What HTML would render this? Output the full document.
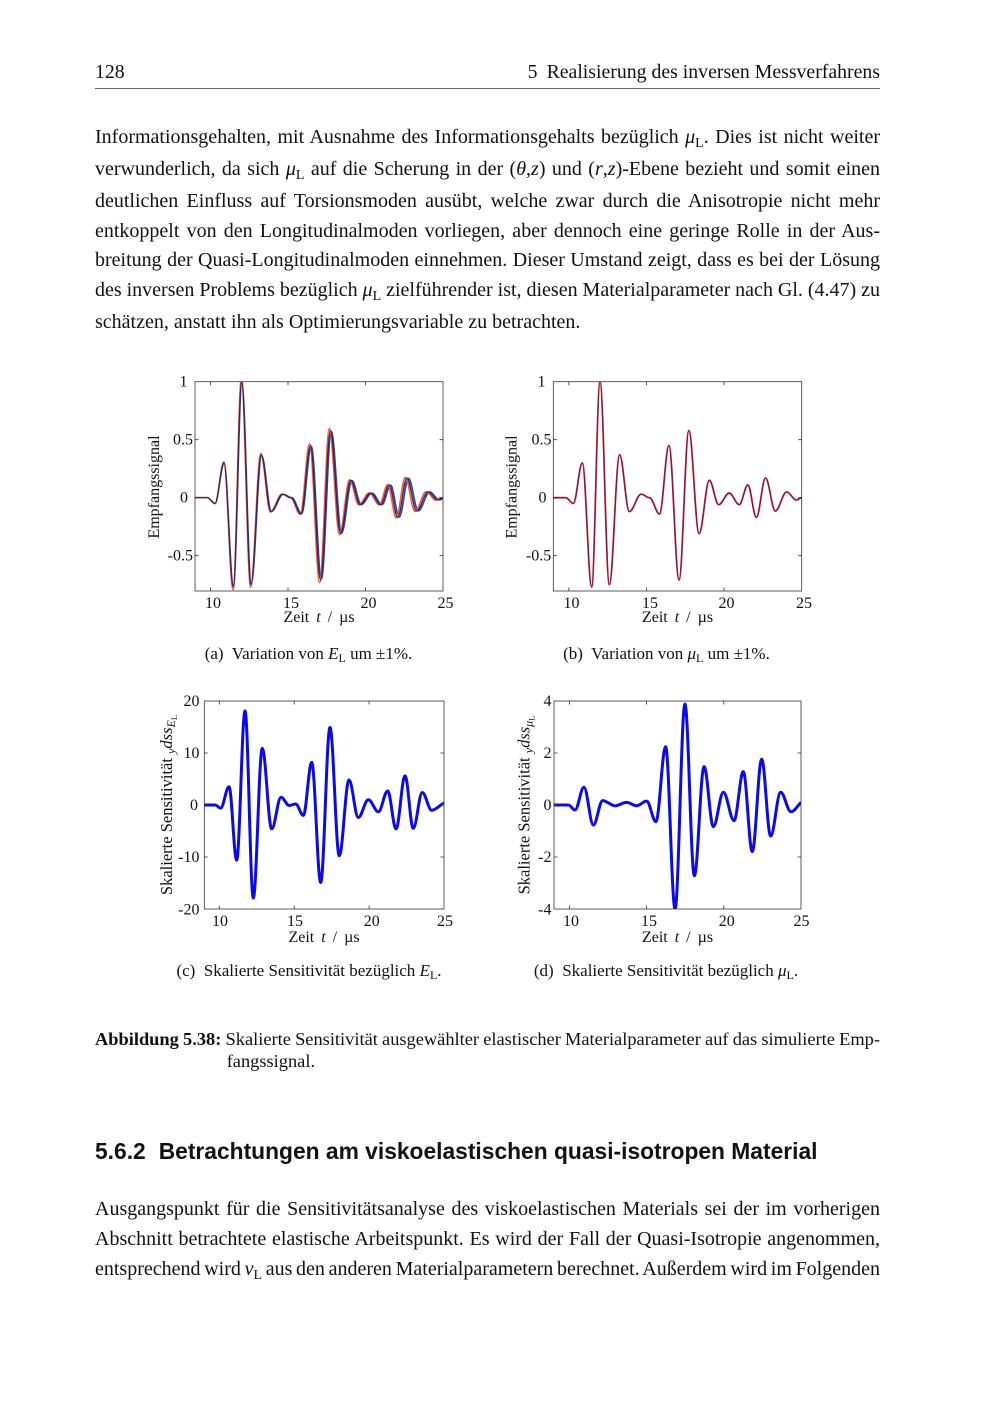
<!DOCTYPE html>
<html>
<head>
<meta charset="utf-8">
<style>
html,body{margin:0;padding:0;background:#fff;}
body{width:1000px;height:1414px;position:relative;overflow:hidden;color:#111;font-family:"Liberation Serif",serif;}
.abs{position:absolute;}
.par{position:absolute;left:95px;width:785px;font-size:20px;}
.j{text-align:justify;text-align-last:justify;word-spacing:-2px;}
.m{font-style:italic;}
.sb{font-size:70%;position:relative;top:0.3em;font-style:normal;}
</style>
</head>
<body>

<!-- Header -->
<div class="abs" style="left:95px;top:62.3px;font-size:19.8px;line-height:20px;">128</div>
<div class="abs" style="right:120px;top:62.3px;font-size:19.8px;line-height:20px;white-space:nowrap;">5<span style="margin-left:9px">Realisierung des inversen Messverfahrens</span></div>
<div class="abs" style="left:95px;top:88px;width:785px;height:1px;background:#6a6a6a;"></div>

<!-- Paragraph 1 -->
<div class="par" style="top:123.3px;line-height:29.75px;">
<div class="j">Informationsgehalten, mit Ausnahme des Informationsgehalts bezüglich <span class="m">μ</span><span class="sb">L</span>. Dies ist nicht weiter</div>
<div class="j">verwunderlich, da sich <span class="m">μ</span><span class="sb">L</span> auf die Scherung in der (<span class="m">θ</span>,<span class="m">z</span>) und (<span class="m">r</span>,<span class="m">z</span>)-Ebene bezieht und somit einen</div>
<div class="j">deutlichen Einfluss auf Torsionsmoden ausübt, welche zwar durch die Anisotropie nicht mehr</div>
<div class="j">entkoppelt von den Longitudinalmoden vorliegen, aber dennoch eine geringe Rolle in der Aus-</div>
<div class="j">breitung der Quasi-Longitudinalmoden einnehmen. Dieser Umstand zeigt, dass es bei der Lösung</div>
<div class="j">des inversen Problems bezüglich <span class="m">μ</span><span class="sb">L</span> zielführender ist, diesen Materialparameter nach Gl. (4.47) zu</div>
<div>schätzen, anstatt ihn als Optimierungsvariable zu betrachten.</div>
</div>

<!-- Figure caption -->
<div class="abs" style="left:95px;top:1027.5px;width:785px;font-size:18.4px;line-height:22.5px;">
<div class="j" style="word-spacing:-1.5px"><b>Abbildung 5.38:</b> Skalierte Sensitivität ausgewählter elastischer Materialparameter auf das simulierte Emp-</div>
<div style="margin-left:131.7px;">fangssignal.</div>
</div>

<!-- Section heading -->
<div class="abs" style="left:95px;top:1136px;font-family:'Liberation Sans',sans-serif;font-weight:bold;font-size:22.8px;line-height:30px;white-space:nowrap;">5.6.2<span style="margin-left:13px">Betrachtungen am viskoelastischen quasi-isotropen Material</span></div>

<!-- Paragraph 2 -->
<div class="par" style="top:1194.3px;line-height:30px;">
<div class="j">Ausgangspunkt für die Sensitivitätsanalyse des viskoelastischen Materials sei der im vorherigen</div>
<div class="j">Abschnitt betrachtete elastische Arbeitspunkt. Es wird der Fall der Quasi-Isotropie angenommen,</div>
<div class="j" style="word-spacing:-3.5px">entsprechend wird <span class="m">ν</span><span class="sb">L</span> aus den anderen Materialparametern berechnet. Außerdem wird im Folgenden</div>
</div>

<!-- Charts -->
<svg class="abs" style="left:0;top:0;" width="1000" height="1414" viewBox="0 0 1000 1414" font-family="'Liberation Serif', serif" font-size="16" fill="#111">
<defs>
<clipPath id="ca"><rect x="195" y="381.7" width="248" height="209.3"/></clipPath>
<clipPath id="cb"><rect x="553.3" y="381.7" width="248.4" height="209.3"/></clipPath>
<clipPath id="cc"><rect x="204.3" y="701" width="239.7" height="208"/></clipPath>
<clipPath id="cd"><rect x="554" y="701" width="247" height="208"/></clipPath>
</defs>

<!-- ===== Chart (a) ===== -->
<g clip-path="url(#ca)">
<g transform="translate(55.5,497.7) scale(15.5,-116)">
<g transform="translate(10,0) scale(1.008,0.985) translate(-10,0)">
<path fill="none" stroke="#2b3fb5" stroke-width="1.6" vector-effect="non-scaling-stroke" d="M9,0 L9.8,0 C9.976,0 10.114,-0.05 10.29,-0.05 C10.499,-0.05 10.661,0.3 10.87,0.3 C11.086,0.3 11.254,-0.77 11.47,-0.77 C11.664,-0.77 11.816,1 12.01,1 C12.226,1 12.394,-0.75 12.61,-0.75 C12.848,-0.75 13.032,0.37 13.27,0.37 C13.497,0.37 13.673,-0.12 13.9,-0.12 C14.17,-0.12 14.38,0.03 14.65,0.03 C14.848,0.03 15.002,0 15.2,0 C15.43,0 15.61,-0.14 15.84,-0.14 C16.06,-0.14 16.23,0.45 16.45,0.45 C16.684,0.45 16.866,-0.71 17.1,-0.71 C17.327,-0.71 17.503,0.58 17.73,0.58 C17.968,0.58 18.152,-0.31 18.39,-0.31 C18.628,-0.31 18.812,0.15 19.05,0.15 C19.266,0.15 19.434,-0.06 19.65,-0.06 C19.895,-0.06 20.085,0.04 20.33,0.04 C20.564,0.04 20.746,-0.06 20.98,-0.06 C21.178,-0.06 21.332,0.11 21.53,0.11 C21.728,0.11 21.882,-0.17 22.08,-0.17 C22.292,-0.17 22.458,0.17 22.67,0.17 C22.897,0.17 23.073,-0.115 23.3,-0.115 C23.563,-0.115 23.767,0.05 24.03,0.05 C24.253,0.05 24.427,-0.02 24.65,-0.02 C24.776,-0.02 24.874,0 25,0"/>
</g>
<g transform="translate(10,0) scale(0.992,1.03) translate(-10,0)">
<path fill="none" stroke="#ee5a3a" stroke-width="1.6" vector-effect="non-scaling-stroke" d="M9,0 L9.8,0 C9.976,0 10.114,-0.05 10.29,-0.05 C10.499,-0.05 10.661,0.3 10.87,0.3 C11.086,0.3 11.254,-0.77 11.47,-0.77 C11.664,-0.77 11.816,1 12.01,1 C12.226,1 12.394,-0.75 12.61,-0.75 C12.848,-0.75 13.032,0.37 13.27,0.37 C13.497,0.37 13.673,-0.12 13.9,-0.12 C14.17,-0.12 14.38,0.03 14.65,0.03 C14.848,0.03 15.002,0 15.2,0 C15.43,0 15.61,-0.14 15.84,-0.14 C16.06,-0.14 16.23,0.45 16.45,0.45 C16.684,0.45 16.866,-0.71 17.1,-0.71 C17.327,-0.71 17.503,0.58 17.73,0.58 C17.968,0.58 18.152,-0.31 18.39,-0.31 C18.628,-0.31 18.812,0.15 19.05,0.15 C19.266,0.15 19.434,-0.06 19.65,-0.06 C19.895,-0.06 20.085,0.04 20.33,0.04 C20.564,0.04 20.746,-0.06 20.98,-0.06 C21.178,-0.06 21.332,0.11 21.53,0.11 C21.728,0.11 21.882,-0.17 22.08,-0.17 C22.292,-0.17 22.458,0.17 22.67,0.17 C22.897,0.17 23.073,-0.115 23.3,-0.115 C23.563,-0.115 23.767,0.05 24.03,0.05 C24.253,0.05 24.427,-0.02 24.65,-0.02 C24.776,-0.02 24.874,0 25,0"/>
</g>
<path fill="none" stroke="#3c2350" stroke-width="1.2" vector-effect="non-scaling-stroke" d="M9,0 L9.8,0 C9.976,0 10.114,-0.05 10.29,-0.05 C10.499,-0.05 10.661,0.3 10.87,0.3 C11.086,0.3 11.254,-0.77 11.47,-0.77 C11.664,-0.77 11.816,1 12.01,1 C12.226,1 12.394,-0.75 12.61,-0.75 C12.848,-0.75 13.032,0.37 13.27,0.37 C13.497,0.37 13.673,-0.12 13.9,-0.12 C14.17,-0.12 14.38,0.03 14.65,0.03 C14.848,0.03 15.002,0 15.2,0 C15.43,0 15.61,-0.14 15.84,-0.14 C16.06,-0.14 16.23,0.45 16.45,0.45 C16.684,0.45 16.866,-0.71 17.1,-0.71 C17.327,-0.71 17.503,0.58 17.73,0.58 C17.968,0.58 18.152,-0.31 18.39,-0.31 C18.628,-0.31 18.812,0.15 19.05,0.15 C19.266,0.15 19.434,-0.06 19.65,-0.06 C19.895,-0.06 20.085,0.04 20.33,0.04 C20.564,0.04 20.746,-0.06 20.98,-0.06 C21.178,-0.06 21.332,0.11 21.53,0.11 C21.728,0.11 21.882,-0.17 22.08,-0.17 C22.292,-0.17 22.458,0.17 22.67,0.17 C22.897,0.17 23.073,-0.115 23.3,-0.115 C23.563,-0.115 23.767,0.05 24.03,0.05 C24.253,0.05 24.427,-0.02 24.65,-0.02 C24.776,-0.02 24.874,0 25,0"/>
</g>
</g>
<g fill="none" stroke="#333" stroke-width="0.8">
<rect x="195" y="381.7" width="248" height="209.3"/>
<path d="M210.5,591v-3.5M288,591v-3.5M365.5,591v-3.5M210.5,381.7v3.5M288,381.7v3.5M365.5,381.7v3.5M195,439.7h3.5M195,497.7h3.5M195,555.7h3.5M443,439.7h-3.5M443,497.7h-3.5M443,555.7h-3.5"/>
</g>
<g text-anchor="middle"><text x="213" y="608">10</text><text x="291" y="608">15</text><text x="368.5" y="608">20</text><text x="445.5" y="608">25</text></g>
<g text-anchor="end"><text x="187.5" y="386.5">1</text><text x="193" y="444.5">0.5</text><text x="188" y="502.5">0</text><text x="193" y="560.5">-0.5</text></g>
<text x="319" y="622" text-anchor="middle" style="word-spacing:3px">Zeit <tspan font-style="italic">t</tspan> / µs</text>
<text transform="translate(159,487) rotate(-90)" text-anchor="middle">Empfangssignal</text>
<text x="308.5" y="659" text-anchor="middle" font-size="17">(a)&#160; Variation von <tspan font-style="italic">E</tspan><tspan font-size="12" dy="3">L</tspan><tspan dy="-3"> um ±1%.</tspan></text>

<!-- ===== Chart (b) ===== -->
<g clip-path="url(#cb)">
<g transform="translate(413.575,497.7) scale(15.525,-116)">
<path fill="none" stroke="#e0303a" stroke-width="1.8" vector-effect="non-scaling-stroke" d="M9,0 L9.8,0 C9.976,0 10.114,-0.05 10.29,-0.05 C10.499,-0.05 10.661,0.3 10.87,0.3 C11.086,0.3 11.254,-0.77 11.47,-0.77 C11.664,-0.77 11.816,1 12.01,1 C12.226,1 12.394,-0.75 12.61,-0.75 C12.848,-0.75 13.032,0.37 13.27,0.37 C13.497,0.37 13.673,-0.12 13.9,-0.12 C14.17,-0.12 14.38,0.03 14.65,0.03 C14.848,0.03 15.002,0 15.2,0 C15.43,0 15.61,-0.14 15.84,-0.14 C16.06,-0.14 16.23,0.45 16.45,0.45 C16.684,0.45 16.866,-0.71 17.1,-0.71 C17.327,-0.71 17.503,0.58 17.73,0.58 C17.968,0.58 18.152,-0.31 18.39,-0.31 C18.628,-0.31 18.812,0.15 19.05,0.15 C19.266,0.15 19.434,-0.06 19.65,-0.06 C19.895,-0.06 20.085,0.04 20.33,0.04 C20.564,0.04 20.746,-0.06 20.98,-0.06 C21.178,-0.06 21.332,0.11 21.53,0.11 C21.728,0.11 21.882,-0.17 22.08,-0.17 C22.292,-0.17 22.458,0.17 22.67,0.17 C22.897,0.17 23.073,-0.115 23.3,-0.115 C23.563,-0.115 23.767,0.05 24.03,0.05 C24.253,0.05 24.427,-0.02 24.65,-0.02 C24.776,-0.02 24.874,0 25,0"/>
<path fill="none" stroke="#7a1838" stroke-width="1.1" vector-effect="non-scaling-stroke" d="M9,0 L9.8,0 C9.976,0 10.114,-0.05 10.29,-0.05 C10.499,-0.05 10.661,0.3 10.87,0.3 C11.086,0.3 11.254,-0.77 11.47,-0.77 C11.664,-0.77 11.816,1 12.01,1 C12.226,1 12.394,-0.75 12.61,-0.75 C12.848,-0.75 13.032,0.37 13.27,0.37 C13.497,0.37 13.673,-0.12 13.9,-0.12 C14.17,-0.12 14.38,0.03 14.65,0.03 C14.848,0.03 15.002,0 15.2,0 C15.43,0 15.61,-0.14 15.84,-0.14 C16.06,-0.14 16.23,0.45 16.45,0.45 C16.684,0.45 16.866,-0.71 17.1,-0.71 C17.327,-0.71 17.503,0.58 17.73,0.58 C17.968,0.58 18.152,-0.31 18.39,-0.31 C18.628,-0.31 18.812,0.15 19.05,0.15 C19.266,0.15 19.434,-0.06 19.65,-0.06 C19.895,-0.06 20.085,0.04 20.33,0.04 C20.564,0.04 20.746,-0.06 20.98,-0.06 C21.178,-0.06 21.332,0.11 21.53,0.11 C21.728,0.11 21.882,-0.17 22.08,-0.17 C22.292,-0.17 22.458,0.17 22.67,0.17 C22.897,0.17 23.073,-0.115 23.3,-0.115 C23.563,-0.115 23.767,0.05 24.03,0.05 C24.253,0.05 24.427,-0.02 24.65,-0.02 C24.776,-0.02 24.874,0 25,0"/>
</g>
</g>
<g fill="none" stroke="#333" stroke-width="0.8">
<rect x="553.3" y="381.7" width="248.4" height="209.3"/>
<path d="M568.8,591v-3.5M646.4,591v-3.5M724,591v-3.5M568.8,381.7v3.5M646.4,381.7v3.5M724,381.7v3.5M553.3,439.7h3.5M553.3,497.7h3.5M553.3,555.7h3.5M801.7,439.7h-3.5M801.7,497.7h-3.5M801.7,555.7h-3.5"/>
</g>
<g text-anchor="middle"><text x="571.5" y="608">10</text><text x="650" y="608">15</text><text x="726.5" y="608">20</text><text x="804" y="608">25</text></g>
<g text-anchor="end"><text x="545.5" y="386.5">1</text><text x="551.5" y="444.5">0.5</text><text x="546.5" y="502.5">0</text><text x="551.3" y="560.5">-0.5</text></g>
<text x="677.5" y="622" text-anchor="middle" style="word-spacing:3px">Zeit <tspan font-style="italic">t</tspan> / µs</text>
<text transform="translate(516.5,487) rotate(-90)" text-anchor="middle">Empfangssignal</text>
<text x="666.5" y="659" text-anchor="middle" font-size="17">(b)&#160; Variation von <tspan font-style="italic">μ</tspan><tspan font-size="12" dy="3">L</tspan><tspan dy="-3"> um ±1%.</tspan></text>

<!-- ===== Chart (c) ===== -->
<g clip-path="url(#cc)">
<g transform="translate(69.48,805) scale(14.98,-5.2)">
<path fill="none" stroke="#0a0aee" stroke-width="3" stroke-linejoin="round" vector-effect="non-scaling-stroke" d="M9,0 L9.72,0 C9.853,0 9.957,-0.6 10.09,-0.6 C10.292,-0.6 10.448,3.5 10.65,3.5 C10.834,3.5 10.976,-10.6 11.16,-10.6 C11.362,-10.6 11.518,18.1 11.72,18.1 C11.918,18.1 12.072,-17.9 12.27,-17.9 C12.486,-17.9 12.654,10.9 12.87,10.9 C13.097,10.9 13.273,-4.6 13.5,-4.6 C13.723,-4.6 13.897,1.5 14.12,1.5 C14.318,1.5 14.472,-0.1 14.67,-0.1 C14.825,-0.1 14.945,0.2 15.1,0.2 C15.284,0.2 15.426,-2 15.61,-2 C15.812,-2 15.968,8.2 16.17,8.2 C16.386,8.2 16.554,-14.9 16.77,-14.9 C16.993,-14.9 17.167,14.9 17.39,14.9 C17.613,14.9 17.787,-9.75 18.01,-9.75 C18.244,-9.75 18.426,4.8 18.66,4.8 C18.883,4.8 19.057,-2.4 19.28,-2.4 C19.521,-2.4 19.709,1 19.95,1 C20.191,1 20.379,-1.3 20.62,-1.3 C20.843,-1.3 21.017,2.7 21.24,2.7 C21.442,2.7 21.598,-4.6 21.8,-4.6 C22.016,-4.6 22.184,5.6 22.4,5.6 C22.598,5.6 22.752,-4.5 22.95,-4.5 C23.166,-4.5 23.334,2.4 23.55,2.4 C23.777,2.4 23.953,-1 24.18,-1 C24.475,-1 24.75,0.1 25,0.35"/>
</g>
</g>
<g fill="none" stroke="#333" stroke-width="0.8">
<rect x="204.3" y="701" width="239.7" height="208"/>
<path d="M219.3,909v-3.5M294.2,909v-3.5M369.1,909v-3.5M219.3,701v3.5M294.2,701v3.5M369.1,701v3.5M204.3,753h3.5M204.3,805h3.5M204.3,857h3.5M444,753h-3.5M444,805h-3.5M444,857h-3.5"/>
</g>
<g text-anchor="middle"><text x="220" y="926">10</text><text x="295" y="926">15</text><text x="371.7" y="926">20</text><text x="445" y="926">25</text></g>
<g text-anchor="end"><text x="199.5" y="706">20</text><text x="199.5" y="758">10</text><text x="198" y="810">0</text><text x="199.5" y="862">-10</text><text x="199.5" y="914.5">-20</text></g>
<text x="324" y="942" text-anchor="middle" style="word-spacing:3px">Zeit <tspan font-style="italic">t</tspan> / µs</text>
<text transform="translate(172,805) rotate(-90)" text-anchor="middle" font-size="16.5">Skalierte Sensitivität <tspan font-style="italic" font-size="12" dy="3">y</tspan><tspan font-style="italic" dy="-3">dss</tspan><tspan font-style="italic" font-size="12" dy="3">E</tspan><tspan font-size="8.5" dy="2">L</tspan></text>
<text x="309" y="976" text-anchor="middle" font-size="17">(c)&#160; Skalierte Sensitivität bezüglich <tspan font-style="italic">E</tspan><tspan font-size="12" dy="3">L</tspan><tspan dy="-3">.</tspan></text>

<!-- ===== Chart (d) ===== -->
<g clip-path="url(#cd)">
<g transform="translate(415.04,805) scale(15.44,-26.1)">
<path fill="none" stroke="#0a0aee" stroke-width="3" stroke-linejoin="round" vector-effect="non-scaling-stroke" d="M9,0 L9.93,0 C10.085,0 10.205,-0.19 10.36,-0.19 C10.569,-0.19 10.731,0.68 10.94,0.68 C11.16,0.68 11.33,-0.77 11.55,-0.77 C11.766,-0.77 11.934,0.17 12.15,0.17 C12.438,0.17 12.662,-0.03 12.95,-0.03 C13.22,-0.03 13.43,0.1 13.7,0.1 C13.934,0.1 14.116,-0.03 14.35,-0.03 C14.584,-0.03 14.766,0.15 15,0.15 C15.216,0.15 15.384,-0.64 15.6,-0.64 C15.827,-0.64 16.003,2.23 16.23,2.23 C16.45,2.23 16.62,-3.98 16.84,-3.98 C17.07,-3.98 17.25,3.87 17.48,3.87 C17.7,3.87 17.87,-2.71 18.09,-2.71 C18.317,-2.71 18.493,1.47 18.72,1.47 C18.936,1.47 19.104,-0.83 19.32,-0.83 C19.554,-0.83 19.736,0.49 19.97,0.49 C20.218,0.49 20.412,-0.6 20.66,-0.6 C20.876,-0.6 21.044,1.28 21.26,1.28 C21.469,1.28 21.631,-1.79 21.84,-1.79 C22.06,-1.79 22.23,1.76 22.45,1.76 C22.659,1.76 22.821,-1.19 23.03,-1.19 C23.264,-1.19 23.446,0.49 23.68,0.49 C23.921,0.49 24.109,-0.26 24.35,-0.26 C24.584,-0.26 24.8,0 25,0.1"/>
</g>
</g>
<g fill="none" stroke="#333" stroke-width="0.8">
<rect x="554" y="701" width="247" height="208"/>
<path d="M569.4,909v-3.5M646.6,909v-3.5M723.8,909v-3.5M569.4,701v3.5M646.6,701v3.5M723.8,701v3.5M554,753h3.5M554,805h3.5M554,857h3.5M801,753h-3.5M801,805h-3.5M801,857h-3.5"/>
</g>
<g text-anchor="middle"><text x="571" y="926">10</text><text x="649" y="926">15</text><text x="726.7" y="926">20</text><text x="801.5" y="926">25</text></g>
<g text-anchor="end"><text x="551.5" y="706">4</text><text x="551.5" y="758">2</text><text x="551.5" y="810">0</text><text x="551.5" y="862">-2</text><text x="551.5" y="914.5">-4</text></g>
<text x="677.5" y="942" text-anchor="middle" style="word-spacing:3px">Zeit <tspan font-style="italic">t</tspan> / µs</text>
<text transform="translate(529.5,805) rotate(-90)" text-anchor="middle" font-size="16.5">Skalierte Sensitivität <tspan font-style="italic" font-size="12" dy="3">y</tspan><tspan font-style="italic" dy="-3">dss</tspan><tspan font-style="italic" font-size="12" dy="3">μ</tspan><tspan font-size="8.5" dy="2">L</tspan></text>
<text x="666" y="976" text-anchor="middle" font-size="17">(d)&#160; Skalierte Sensitivität bezüglich <tspan font-style="italic">μ</tspan><tspan font-size="12" dy="3">L</tspan><tspan dy="-3">.</tspan></text>
</svg>

</body>
</html>
